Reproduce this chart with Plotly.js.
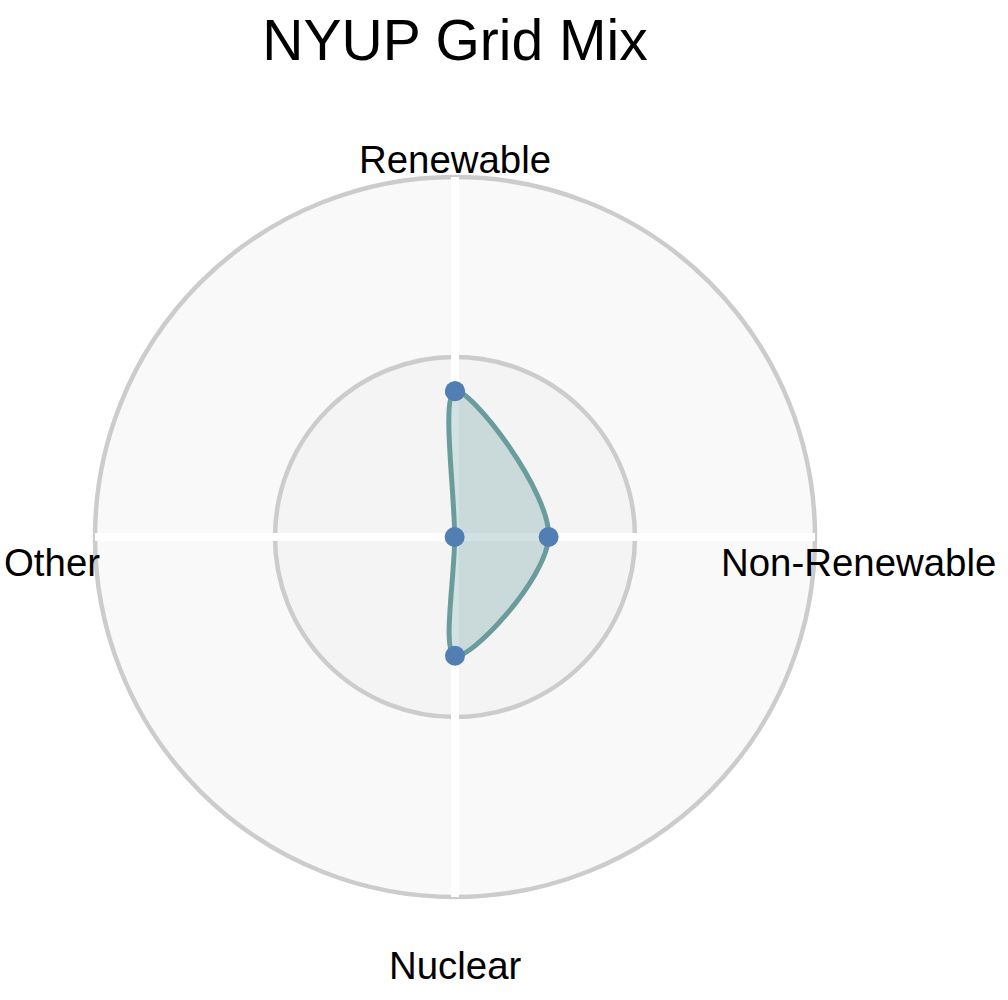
<!DOCTYPE html>
<html>
<head>
<meta charset="utf-8">
<script src="https://cdn.plot.ly/plotly-3.0.1.min.js"></script>
<style>
  html, body { margin: 0; padding: 0; background: #ffffff; }
  #graficoMix { width: 1008px; height: 1000px; }
</style>
</head>
<body>
<div id="graficoMix"></div>
<script>
/* =========================================
   NYUP GRID MIX - RADAR
========================================= */

let categorias = ["Renewable", "Non-Renewable", "Nuclear", "Other"];
let valores = [40.5, 26, 33, 0.1];
let escalaMax = 100;
let anelInterno = 50;

function desenharRadar(){

    // fecha o contorno repetindo o primeiro ponto
    let theta = categorias.concat([categorias[0]]);
    let r = valores.concat([valores[0]]);

    let trace1 = {
        type: "scatterpolar",
        theta: theta,
        r: r,
        mode: "lines+markers",
        fill: "toself",
        fillcolor: "rgba(106,156,157,0.30)",
        line: { color: "#6a9c9d", width: 5, shape: "spline", smoothing: 1 },
        marker: { color: "#517fb3", size: 20 },
        hoverinfo: "theta+r",
        showlegend: false
    };

    // rótulos das categorias fora do círculo
    let raioPx = 360;
    let rotuloPx = 403;
    let deslocPx = 25;
    let rotulos = categorias.map((nome, i) => {
        let ang = (90 - i * 360 / categorias.length) * Math.PI / 180;
        return {
            text: nome,
            xref: "paper",
            yref: "paper",
            x: 0.5 + rotuloPx * Math.cos(ang) / (2 * raioPx),
            y: 0.5 + (rotuloPx * Math.sin(ang) - deslocPx) / (2 * raioPx),
            xanchor: "center",
            yanchor: "middle",
            showarrow: false,
            font: { size: 38.4, color: "#000000" }
        };
    });

    let frac = anelInterno / escalaMax / 2;

    let layout = {

    width: 1008,
    height: 1000,

    font: { family: "Liberation Sans, Arial, Helvetica, sans-serif", color: "#000000" },

    title: {
        text: "NYUP Grid Mix",
        font: { size: 57, color: "#000000" },
        x: 0.5,
        xref: "paper",
        y: 0.96,
        yref: "container",
        yanchor: "middle"
    },

    margin: {
        t: 177,
        l: 95,
        r: 193,
        b: 103
    },

    paper_bgcolor: "#ffffff",

    shapes: [
        {
            type: "circle", xref: "paper", yref: "paper", layer: "below",
            x0: 0, x1: 1, y0: 0, y1: 1,
            fillcolor: "#f9f9f9",
            line: { color: "#cccccc", width: 4.5 }
        },
        {
            type: "circle", xref: "paper", yref: "paper", layer: "below",
            x0: 0.5 - frac, x1: 0.5 + frac, y0: 0.5 - frac, y1: 0.5 + frac,
            fillcolor: "#f4f4f4",
            line: { color: "#cccccc", width: 4.5 }
        }
    ],

    annotations: rotulos,

    polar: {
        domain: { x: [0, 1], y: [0, 1] },
        bgcolor: "rgba(0,0,0,0)",
        radialaxis: {
            range: [0, escalaMax],
            showgrid: false,
            showline: false,
            showticklabels: false,
            ticks: ""
        },
        angularaxis: {
            rotation: 90,
            direction: "clockwise",
            showgrid: true,
            gridcolor: "#ffffff",
            gridwidth: 8,
            showline: false,
            showticklabels: false,
            ticks: ""
        }
    }
    };

    Plotly.newPlot(
        "graficoMix",
        [trace1],
        layout,
        { displayModeBar: false, staticPlot: true }
    );
}

desenharRadar();
</script>
</body>
</html>
